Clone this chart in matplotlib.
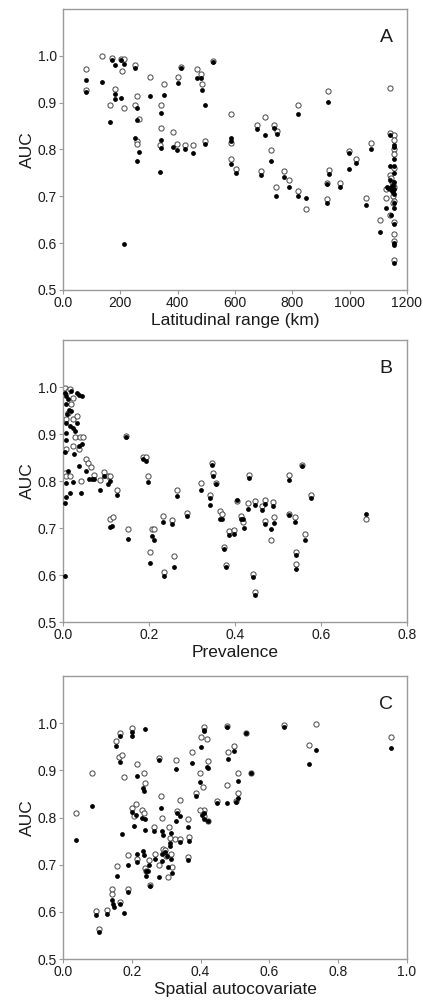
import matplotlib
matplotlib.use("Agg")
import matplotlib.pyplot as plt

plt.rcParams["font.family"] = ["Liberation Sans", "DejaVu Sans"]

# Panel A: latitudinal range (km) vs AUC
a_open_x = [81, 81, 136, 172, 181, 163, 201, 205, 213, 213, 251, 251, 258, 258, 258, 265,
            305, 343, 343, 340, 353, 383, 401, 397, 410, 426, 455, 466, 480, 484, 497, 522,
            586, 586, 586, 605, 676, 690, 706, 724, 735, 748, 743, 771, 790, 819, 819, 849,
            924, 922, 927, 922, 966, 997, 1022, 1058, 1076, 1105, 1128, 1142, 1142,
            1142, 1148, 1150, 1154, 1155, 1155, 1156, 1156, 1155, 1153, 1155, 1140, 1155,
            1155, 1155, 1155, 1128, 1150, 1152, 1145]
a_open_y = [0.971, 0.928, 1.000, 0.996, 0.930, 0.894, 0.994, 0.967, 0.993, 0.888, 0.981, 0.896,
            0.915, 0.818, 0.811, 0.866, 0.954, 0.894, 0.846, 0.809, 0.939, 0.838, 0.954, 0.811,
            0.977, 0.810, 0.809, 0.971, 0.962, 0.939, 0.818, 0.988, 0.875, 0.814, 0.780, 0.759,
            0.853, 0.754, 0.870, 0.799, 0.853, 0.839, 0.720, 0.754, 0.735, 0.711, 0.894, 0.674,
            0.924, 0.695, 0.756, 0.729, 0.729, 0.796, 0.780, 0.696, 0.813, 0.649, 0.697, 0.932,
            0.836, 0.745, 0.730, 0.715, 0.830, 0.820, 0.800, 0.790, 0.760, 0.720, 0.700, 0.690,
            0.660, 0.645, 0.620, 0.605, 0.565, 0.715, 0.685, 0.725, 0.740]
a_fill_x = [81, 81, 136, 172, 181, 181, 181, 163, 202, 203, 213, 213, 251, 251, 259, 258, 258,
            265, 305, 343, 343, 343, 337, 353, 383, 401, 397, 410, 426, 455, 466, 480, 484, 497,
            497, 522, 586, 586, 586, 605, 676, 690, 706, 724, 735, 748, 743, 771, 790, 819, 819,
            849, 924, 922, 927, 922, 966, 997, 997, 1022, 1058, 1076, 1105, 1128,
            1142, 1155, 1155, 1156, 1142, 1155, 1155, 1142, 1130, 1135, 1140, 1145, 1150, 1155,
            1156, 1155, 1155, 1155, 1143, 1155, 1155, 1155, 1156, 1150, 1148]
a_fill_y = [0.949, 0.922, 0.944, 0.992, 0.981, 0.918, 0.908, 0.858, 0.909, 0.992, 0.982, 0.598,
            0.974, 0.824, 0.888, 0.863, 0.775, 0.794, 0.914, 0.879, 0.821, 0.804, 0.753, 0.916,
            0.805, 0.941, 0.799, 0.973, 0.800, 0.793, 0.952, 0.952, 0.926, 0.894, 0.811, 0.986,
            0.824, 0.819, 0.769, 0.750, 0.844, 0.746, 0.832, 0.775, 0.846, 0.834, 0.701, 0.741,
            0.720, 0.700, 0.876, 0.696, 0.902, 0.686, 0.747, 0.727, 0.719, 0.792, 0.758, 0.771,
            0.682, 0.802, 0.624, 0.675, 0.832, 0.810, 0.805, 0.780, 0.765, 0.765, 0.750, 0.735,
            0.720, 0.718, 0.715, 0.720, 0.710, 0.730, 0.715, 0.705, 0.685, 0.675, 0.660, 0.640,
            0.600, 0.595, 0.558, 0.725, 0.712]

# Panel B: prevalence vs AUC
b_open_x = [0.004, 0.012, 0.016, 0.023, 0.019, 0.012, 0.008, 0.023, 0.033, 0.027, 0.039, 0.047,
            0.023, 0.037, 0.008, 0.004, 0.008, 0.016, 0.041, 0.054, 0.058, 0.064, 0.072, 0.085,
            0.095, 0.105, 0.110, 0.109, 0.116, 0.125, 0.146, 0.151, 0.186, 0.194, 0.197, 0.203,
            0.206, 0.212, 0.233, 0.236, 0.253, 0.257, 0.264, 0.288, 0.320, 0.342, 0.346, 0.348,
            0.355, 0.364, 0.370, 0.374, 0.380, 0.387, 0.398, 0.405, 0.415, 0.419, 0.430, 0.432,
            0.443, 0.446, 0.446, 0.462, 0.471, 0.469, 0.483, 0.489, 0.491, 0.526, 0.526, 0.539,
            0.542, 0.542, 0.556, 0.564, 0.577, 0.705]
b_open_y = [0.999, 0.991, 0.995, 0.977, 0.963, 0.945, 0.931, 0.931, 0.938, 0.894, 0.894, 0.894,
            0.874, 0.869, 0.869, 0.817, 0.810, 0.810, 0.800, 0.846, 0.839, 0.830, 0.812, 0.803,
            0.820, 0.810, 0.810, 0.720, 0.723, 0.780, 0.896, 0.698, 0.851, 0.851, 0.811, 0.650,
            0.697, 0.698, 0.725, 0.607, 0.718, 0.640, 0.780, 0.732, 0.796, 0.770, 0.839, 0.817,
            0.796, 0.736, 0.729, 0.660, 0.622, 0.694, 0.696, 0.757, 0.725, 0.712, 0.753, 0.813,
            0.603, 0.757, 0.564, 0.746, 0.759, 0.714, 0.675, 0.755, 0.723, 0.813, 0.730, 0.723,
            0.649, 0.624, 0.835, 0.687, 0.770, 0.720]
b_fill_x = [0.005, 0.008, 0.012, 0.018, 0.008, 0.014, 0.019, 0.010, 0.008, 0.016, 0.023, 0.027,
            0.033, 0.006, 0.008, 0.005, 0.026, 0.037, 0.045, 0.037, 0.012, 0.008, 0.008, 0.005,
            0.016, 0.023, 0.041, 0.033, 0.037, 0.043, 0.005, 0.054, 0.060, 0.067, 0.072, 0.085,
            0.095, 0.105, 0.110, 0.109, 0.115, 0.125, 0.146, 0.151, 0.186, 0.194, 0.197, 0.203,
            0.206, 0.212, 0.233, 0.236, 0.253, 0.257, 0.264, 0.288, 0.320, 0.342, 0.342, 0.346,
            0.348, 0.355, 0.364, 0.370, 0.374, 0.380, 0.387, 0.398, 0.405, 0.415, 0.419, 0.421,
            0.430, 0.432, 0.443, 0.446, 0.446, 0.462, 0.471, 0.469, 0.483, 0.489, 0.491, 0.526,
            0.526, 0.539, 0.542, 0.542, 0.556, 0.564, 0.577, 0.705]
b_fill_y = [0.988, 0.981, 0.974, 0.991, 0.963, 0.952, 0.950, 0.942, 0.924, 0.917, 0.913, 0.906,
            0.924, 0.903, 0.888, 0.862, 0.858, 0.874, 0.878, 0.832, 0.822, 0.795, 0.766, 0.754,
            0.775, 0.798, 0.775, 0.988, 0.983, 0.981, 0.599, 0.822, 0.805, 0.805, 0.805, 0.782,
            0.810, 0.793, 0.800, 0.702, 0.704, 0.770, 0.894, 0.677, 0.846, 0.842, 0.799, 0.625,
            0.683, 0.674, 0.712, 0.597, 0.709, 0.618, 0.769, 0.725, 0.781, 0.765, 0.749, 0.834,
            0.810, 0.793, 0.720, 0.720, 0.656, 0.617, 0.685, 0.687, 0.759, 0.719, 0.719, 0.700,
            0.741, 0.807, 0.596, 0.749, 0.558, 0.739, 0.751, 0.709, 0.697, 0.746, 0.711, 0.802,
            0.727, 0.713, 0.642, 0.612, 0.831, 0.675, 0.763, 0.730]

# Panel C: spatial autocovariate vs AUC
c_open_x = [0.037, 0.085, 0.097, 0.104, 0.129, 0.142, 0.142, 0.158, 0.154, 0.167, 0.163, 0.172,
            0.177, 0.167, 0.188, 0.190, 0.200, 0.200, 0.206, 0.212, 0.214, 0.216, 0.235, 0.239,
            0.231, 0.236, 0.238, 0.240, 0.251, 0.252, 0.264, 0.268, 0.280, 0.280, 0.286, 0.287,
            0.290, 0.296, 0.299, 0.304, 0.308, 0.310, 0.313, 0.316, 0.325, 0.328, 0.331, 0.341,
            0.341, 0.363, 0.365, 0.362, 0.376, 0.386, 0.399, 0.402, 0.408, 0.410, 0.410, 0.411,
            0.418, 0.421, 0.423, 0.399, 0.449, 0.477, 0.479, 0.496, 0.503, 0.508, 0.508, 0.533,
            0.547, 0.642, 0.716, 0.737, 0.953, 0.477]
c_open_y = [0.809, 0.895, 0.602, 0.563, 0.604, 0.648, 0.638, 0.697, 0.962, 0.980, 0.929, 0.932,
            0.887, 0.621, 0.648, 0.720, 0.990, 0.820, 0.803, 0.829, 0.914, 0.713, 0.894, 0.874,
            0.817, 0.810, 0.694, 0.687, 0.711, 0.658, 0.779, 0.723, 0.699, 0.926, 0.845, 0.799,
            0.733, 0.732, 0.718, 0.674, 0.779, 0.757, 0.723, 0.696, 0.755, 0.923, 0.813, 0.837,
            0.755, 0.796, 0.758, 0.717, 0.938, 0.852, 0.894, 0.970, 0.865, 0.992, 0.817, 0.803,
            0.966, 0.919, 0.793, 0.816, 0.835, 0.869, 0.939, 0.952, 0.835, 0.894, 0.852, 0.980,
            0.895, 0.996, 0.953, 0.999, 0.970, 0.994]
c_fill_x = [0.037, 0.085, 0.097, 0.104, 0.129, 0.142, 0.144, 0.147, 0.158, 0.154, 0.167, 0.165,
            0.167, 0.177, 0.172, 0.188, 0.190, 0.200, 0.200, 0.200, 0.206, 0.212, 0.214, 0.214,
            0.214, 0.237, 0.233, 0.235, 0.231, 0.239, 0.237, 0.233, 0.236, 0.240, 0.240, 0.246,
            0.251, 0.252, 0.264, 0.268, 0.280, 0.280, 0.286, 0.287, 0.290, 0.287, 0.296, 0.287,
            0.302, 0.304, 0.310, 0.310, 0.313, 0.316, 0.313, 0.328, 0.328, 0.331, 0.341, 0.341,
            0.363, 0.365, 0.362, 0.376, 0.386, 0.399, 0.402, 0.410, 0.410, 0.411, 0.403, 0.411,
            0.418, 0.421, 0.423, 0.449, 0.477, 0.477, 0.479, 0.496, 0.503, 0.508, 0.508, 0.533,
            0.547, 0.642, 0.716, 0.737, 0.953]
c_fill_y = [0.752, 0.824, 0.594, 0.557, 0.595, 0.625, 0.616, 0.610, 0.677, 0.951, 0.972, 0.918,
            0.616, 0.597, 0.765, 0.642, 0.700, 0.973, 0.982, 0.811, 0.782, 0.805, 0.888, 0.722,
            0.705, 0.987, 0.862, 0.857, 0.800, 0.797, 0.774, 0.728, 0.721, 0.686, 0.675, 0.686,
            0.699, 0.655, 0.771, 0.712, 0.674, 0.922, 0.821, 0.772, 0.764, 0.723, 0.726, 0.708,
            0.718, 0.696, 0.746, 0.739, 0.712, 0.682, 0.768, 0.902, 0.792, 0.810, 0.804, 0.748,
            0.780, 0.750, 0.709, 0.915, 0.845, 0.875, 0.950, 0.986, 0.983, 0.810, 0.806, 0.796,
            0.908, 0.906, 0.792, 0.831, 0.831, 0.992, 0.925, 0.941, 0.833, 0.878, 0.842, 0.980,
            0.894, 0.991, 0.913, 0.943, 0.948]

panels = [
    ([0.149, 0.7106, 0.813, 0.2804], a_open_x, a_open_y, a_fill_x, a_fill_y,
     (0, 1200), [0, 200, 400, 600, 800, 1000, 1200], "Latitudinal range (km)", "A",
     ["0.0", "200", "400", "600", "800", "1000", "1200"]),
    ([0.149, 0.3792, 0.813, 0.2814], b_open_x, b_open_y, b_fill_x, b_fill_y,
     (0, 0.8), [0, 0.2, 0.4, 0.6, 0.8], "Prevalence", "B",
     ["0.0", "0.2", "0.4", "0.6", "0.8"]),
    ([0.149, 0.0429, 0.813, 0.2824], c_open_x, c_open_y, c_fill_x, c_fill_y,
     (0, 1.0), [0, 0.2, 0.4, 0.6, 0.8, 1.0], "Spatial autocovariate", "C",
     ["0.0", "0.2", "0.4", "0.6", "0.8", "1.0"]),
]

fig = plt.figure(figsize=(4.23, 10.02), dpi=100)
spine_col = "#9a9a9a"
text_col = "#1a1a1a"

for rect, ox, oy, fx, fy, xlim, xticks, xlabel, letter, xtl in panels:
    ax = fig.add_axes(rect)
    ax.scatter(ox, oy, s=14, facecolors="white", edgecolors="#444444", linewidths=0.7, zorder=2)
    ax.scatter(fx, fy, s=12, color="black", linewidths=0, zorder=3)
    ax.set_xlim(*xlim)
    ax.set_ylim(0.5, 1.1)
    ax.set_xticks(xticks)
    ax.set_xticklabels(xtl)
    ax.set_yticks([0.5, 0.6, 0.7, 0.8, 0.9, 1.0])
    ax.set_yticklabels(["0.5", "0.6", "0.7", "0.8", "0.9", "1.0"])
    for sp in ax.spines.values():
        sp.set_color(spine_col)
        sp.set_linewidth(1.0)
    ax.tick_params(direction="out", length=3, width=0.8, color=spine_col,
                   labelsize=10, pad=1.5, labelcolor=text_col)
    ax.set_xlabel(xlabel, fontsize=12.5, labelpad=2, color=text_col)
    ax.set_ylabel("AUC", fontsize=12.5, labelpad=2, color=text_col)
    ax.text(0.94, 0.90, letter, transform=ax.transAxes, ha="center", va="center",
            fontsize=14, color=text_col)

fig.savefig("out.png", dpi=100)
